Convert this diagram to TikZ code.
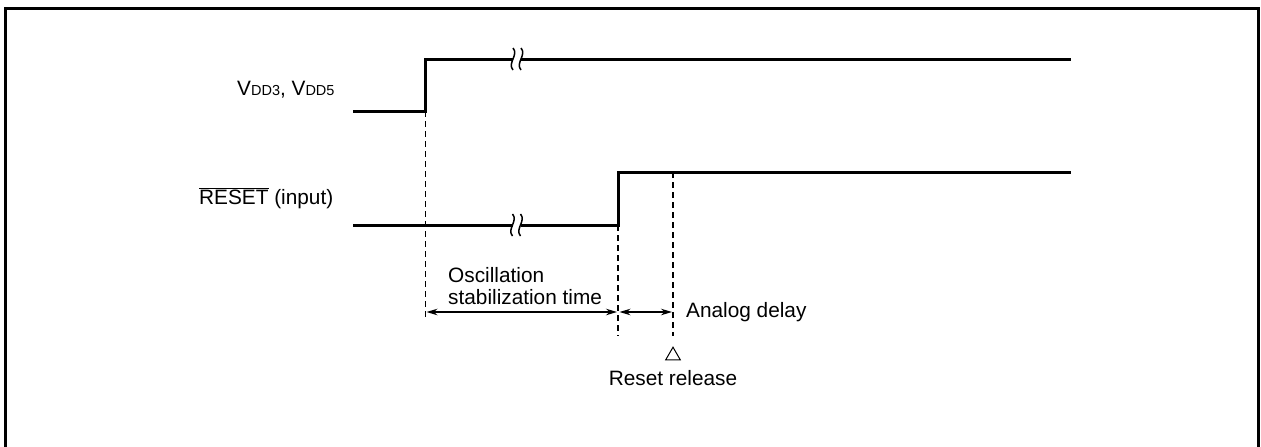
\documentclass[tikz,border=0pt]{standalone}
\usepackage{fontspec}
\setmainfont{Liberation Sans}
\usetikzlibrary{arrows.meta,shapes.geometric}
\begin{document}
\begin{tikzpicture}[x=1pt,y=-1pt,
  sig/.style={line width=3pt},
  frame/.style={line width=2.8pt},
  guide/.style={line width=1.4pt, dash pattern=on 6pt off 4pt},
  dim/.style={line width=1.2pt, {Stealth[length=11pt,width=6.5pt]}-{Stealth[length=11pt,width=6.5pt]}},
  lbl/.style={inner sep=0pt, font=\fontsize{20.8}{24.5}\selectfont},
  brk/.style={line width=1.5pt},
]
\useasboundingbox (0,0) rectangle (1261,447);
\draw[frame] (5.5,448) -- (5.5,8.5) -- (1258.5,8.5) -- (1258.5,448);

% signal coordinates
\coordinate (v0) at (353,111);
\coordinate (v1) at (425.5,111);
\coordinate (v2) at (425.5,59);
\coordinate (v3) at (1071,59);
\coordinate (r0) at (353,225);
\coordinate (r1) at (618,225);
\coordinate (r2) at (618,172);
\coordinate (r3) at (1071,172);

\draw[sig] (v0) -- (v1) -- (v2) -- (v3);
\draw[sig] (r0) -- (r1) -- (r2) -- (r3);

% break marks
\foreach \bx/\by in {517/59, 516.5/225}{
  \fill[white] (\bx-4,\by-3) rectangle (\bx+4,\by+3);
  \draw[brk] (\bx-4,\by-11) .. controls (\bx+2,\by-4) and (\bx-10,\by+4) .. (\bx-4,\by+11);
  \draw[brk] (\bx+4,\by-11) .. controls (\bx+10,\by-4) and (\bx-2,\by+4) .. (\bx+4,\by+11);
}

% guides
\coordinate (g1b) at (425.5,320);
\coordinate (g2b) at (618,336);
\coordinate (g3t) at (673,172);
\coordinate (g3b) at (673,336);
\draw[guide] (v1) -- (g1b);
\draw[guide] (r1) -- (g2b);
\draw[guide] (g3t) -- (g3b);

% dimension arrows
\coordinate (a1) at (426.5,312);
\coordinate (a2) at (617,312);
\coordinate (a3) at (619.5,312);
\coordinate (a4) at (672,312);
\draw[dim] (a1) -- (a2);
\draw[dim] (a3) -- (a4);

% labels
\node[lbl, anchor=base west] (vdd) at (237,95) {V{\fontsize{14.5}{16}\selectfont DD3}, V{\fontsize{14.5}{16}\selectfont DD5}};
\node[lbl, anchor=base west] (rst) at (199,204) {$\overline{\mbox{RESET}}$ (input)};
\node[lbl, anchor=base west] (osc) at (448,282) {Oscillation};
\node[lbl, anchor=base west] (stab) at (448,304) {stabilization time};
\node[lbl, anchor=west] (ana) at (686,312) {Analog delay};
\node[draw, line width=1pt, regular polygon, regular polygon sides=3, minimum size=17pt, inner sep=0pt] (tri) at (673,355.7) {};
\node[lbl, anchor=base] (rel) at (673,385) {Reset release};
\end{tikzpicture}
\end{document}
